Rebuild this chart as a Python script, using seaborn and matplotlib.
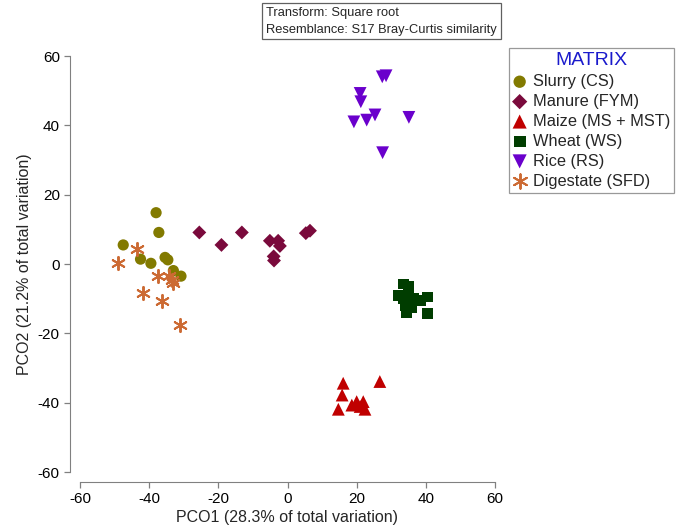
import pandas as pd
import seaborn as sns
import matplotlib.pyplot as plt

slurry_x = [-47.5, -38.0, -37.2, -42.5, -39.5, -35.4, -34.6, -33.0, -30.8]
slurry_y = [5.5, 14.8, 9.1, 1.4, 0.2, 1.9, 1.2, -1.9, -3.5]

manure_x = [-25.5, -19.1, -13.2, -5.1, -2.7, -2.2, -3.9, -4.0, 5.3, 6.5]
manure_y = [9.1, 5.5, 9.1, 6.7, 6.7, 5.2, 1.0, 2.2, 8.9, 9.6]

maize_x = [16.1, 26.7, 15.8, 14.7, 18.6, 20.0, 21.9, 22.4, 21.0]
maize_y = [-34.4, -33.9, -37.8, -41.9, -40.7, -39.7, -39.7, -41.9, -41.1]

wheat_x = [33.5, 35.0, 32.0, 33.5, 35.0, 36.5, 38.5, 40.5, 34.0, 34.5, 36.0, 40.5]
wheat_y = [-5.8, -6.5, -9.0, -10.0, -9.5, -10.0, -10.5, -9.5, -12.0, -14.0, -12.5, -14.2]

rice_x = [27.4, 28.5, 21.0, 21.2, 19.2, 22.9, 25.3, 35.1, 27.5]
rice_y = [54.0, 54.3, 49.2, 46.8, 41.0, 41.5, 43.0, 42.3, 32.1]

digestate_x = [-48.9, -43.6, -37.4, -34.3, -33.0, -33.4, -41.7, -36.4, -31.1]
digestate_y = [0.2, 4.2, -3.5, -3.5, -5.6, -4.6, -8.3, -10.7, -17.6]

groepen = ["Slurry (CS)", "Manure (FYM)", "Maize (MS + MST)",
           "Wheat (WS)", "Rice (RS)", "Digestate (SFD)"]
kleuren = ["#827a00", "#7a0a3c", "#c00000", "#003d00", "#6a00cc", "#cc6a33"]
markers = ["o", "D", "^", "s", "v", (6, 2, 0)]
groottes = [65, 50, 85, 60, 85, 90]

alle_x = [slurry_x, manure_x, maize_x, wheat_x, rice_x, digestate_x]
alle_y = [slurry_y, manure_y, maize_y, wheat_y, rice_y, digestate_y]

rijen = []
for groep, xs, ys in zip(groepen, alle_x, alle_y):
    for a, b in zip(xs, ys):
        rijen.append({"PCO1": a, "PCO2": b, "matrix": groep})
df = pd.DataFrame(rijen)

sns.set_style("ticks")
plt.rcParams["font.family"] = ["Liberation Sans", "DejaVu Sans"]
plt.rcParams["axes.unicode_minus"] = False
plt.rcParams["axes.edgecolor"] = "#808080"
plt.rcParams["xtick.color"] = "#808080"
plt.rcParams["ytick.color"] = "#808080"
plt.rcParams["xtick.labelcolor"] = "black"
plt.rcParams["ytick.labelcolor"] = "black"

fig = plt.figure(figsize=(6.78, 5.26), dpi=100)
ax = fig.add_axes([80 / 678, 54 / 526, 415 / 678, 416 / 526])

# per groep tekenen, want gevulde en lijn-markers mogen niet gemengd worden
for groep, kleur, marker, s in zip(groepen, kleuren, markers, groottes):
    deel = df[df.matrix == groep]
    if marker == (6, 2, 0):
        sns.scatterplot(data=deel, x="PCO1", y="PCO2", color=kleur, marker=marker,
                        s=s, linewidth=1.4, label=groep, ax=ax)
    else:
        sns.scatterplot(data=deel, x="PCO1", y="PCO2", color=kleur, marker=marker,
                        s=s, linewidth=0, edgecolor="none", label=groep, ax=ax)

ax.set_xlim(-60, 60)
ax.set_ylim(-60, 60)
ax.set_xticks(range(-60, 61, 20))
ax.set_yticks(range(-60, 61, 20))
ax.tick_params(labelsize=11, length=4, width=0.9)
ax.set_xlabel("PCO1 (28.3% of total variation)", fontsize=11.5, labelpad=3)
ax.set_ylabel("PCO2 (21.2% of total variation)", fontsize=11.5, labelpad=4)
sns.despine(ax=ax, offset=7, trim=True)

leg = ax.legend(title="MATRIX", loc="upper left", bbox_to_anchor=(509 / 678, 1 - 48 / 526),
                bbox_transform=fig.transFigure, fontsize=11.8, title_fontsize=14,
                frameon=True, fancybox=False, edgecolor="#808080", borderaxespad=0,
                handlelength=0.8, handletextpad=0.4, labelspacing=0.3, borderpad=0.25,
                markerscale=1.1)
leg.get_title().set_color("#1a1acc")
leg.get_frame().set_linewidth(0.9)

fig.text(266 / 678, 1 - 7 / 526, "Transform: Square root\nResemblance: S17 Bray-Curtis similarity",
         fontsize=9.3, va="top", ha="left", linespacing=1.5,
         bbox=dict(boxstyle="square,pad=0.3", fc="white", ec="#606060", lw=0.9))

plt.savefig("out.png", dpi=100)
